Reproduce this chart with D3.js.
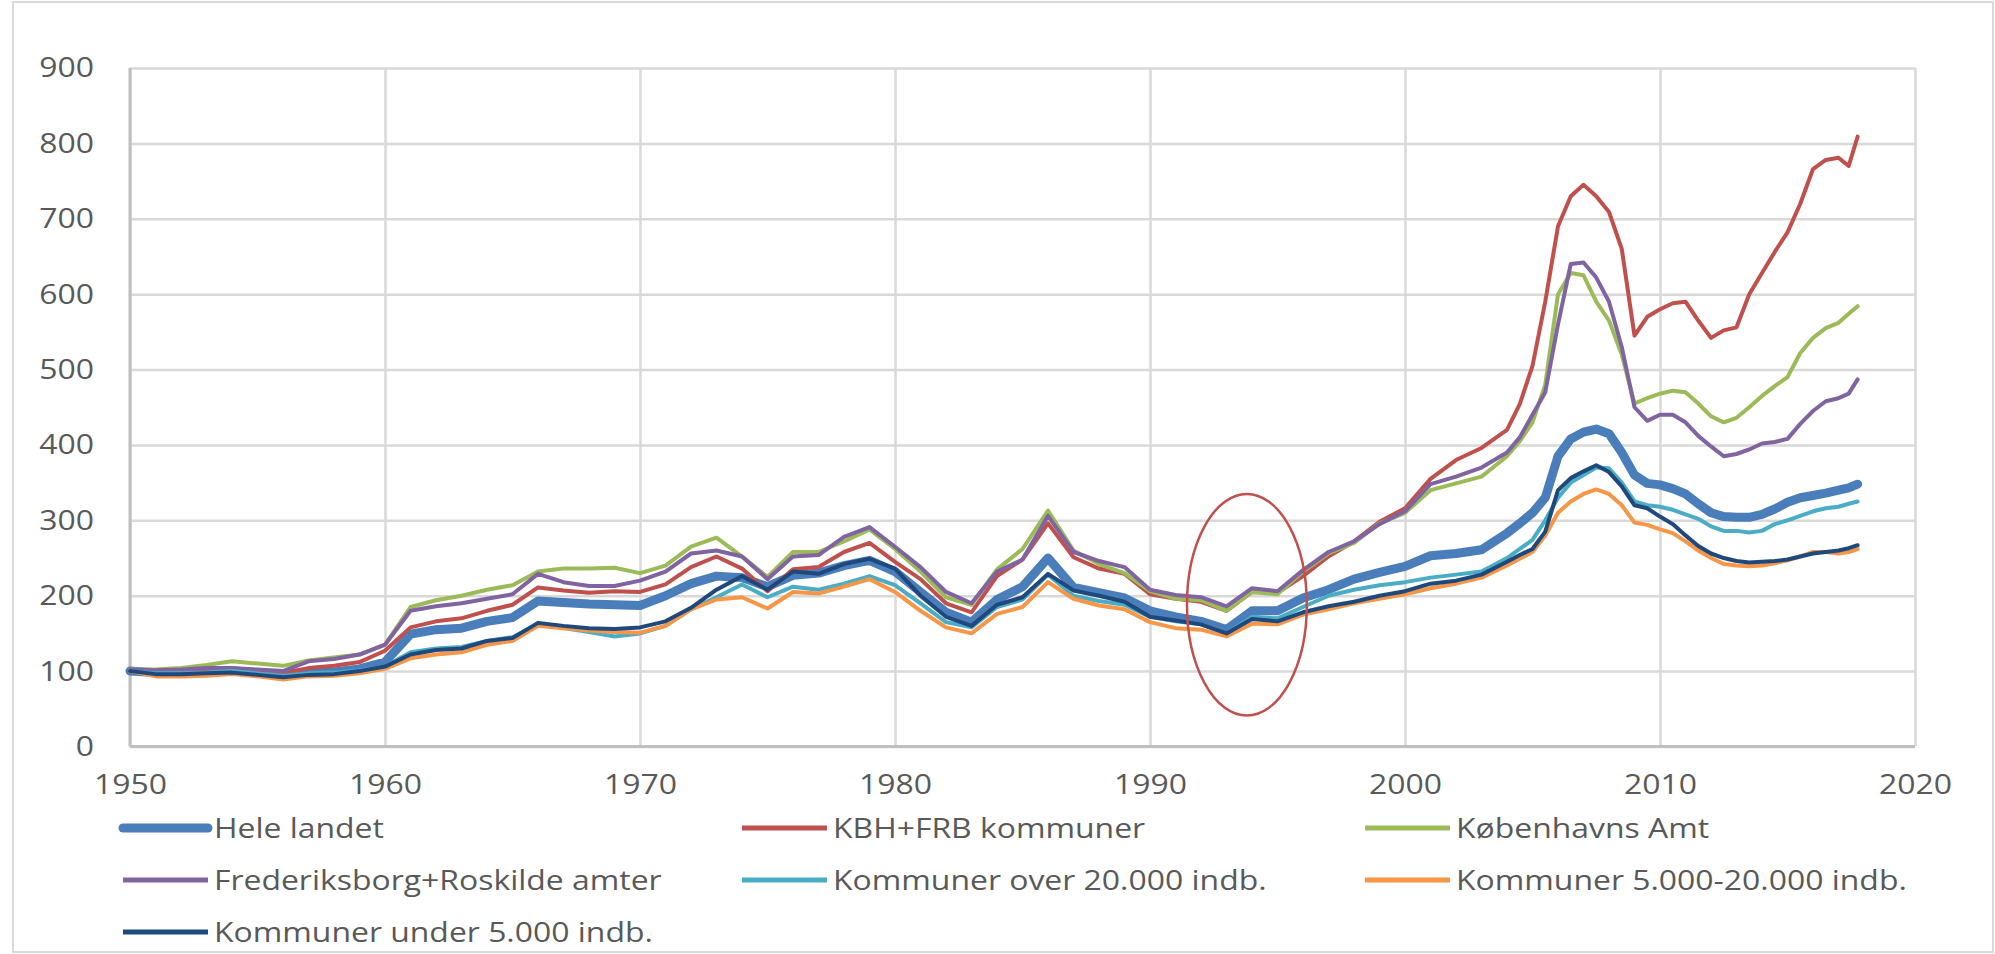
<!DOCTYPE html>
<html>
<head>
<meta charset="utf-8">
<script src="https://cdn.jsdelivr.net/npm/d3@7"></script>
<style>
    body { margin: 0; background: #fff; }
    text { font-family: "Open Sans", Lato, sans-serif; fill: #595959; }
</style>
</head>
<body>
<svg id="chart" width="1995" height="954"></svg>
<script>
// x values: annual to 2004, half-yearly after
const years = [1950, 1951, 1952, 1953, 1954, 1955, 1956, 1957, 1958, 1959,
    1960, 1961, 1962, 1963, 1964, 1965, 1966, 1967, 1968, 1969,
    1970, 1971, 1972, 1973, 1974, 1975, 1976, 1977, 1978, 1979,
    1980, 1981, 1982, 1983, 1984, 1985, 1986, 1987, 1988, 1989,
    1990, 1991, 1992, 1993, 1994, 1995, 1996, 1997, 1998, 1999,
    2000, 2001, 2002, 2003, 2004,
    2004.5, 2005, 2005.5, 2006, 2006.5, 2007, 2007.5, 2008, 2008.5, 2009, 2009.5, 2010, 2010.5, 2011,
    2011.5, 2012, 2012.5, 2013, 2013.5, 2014, 2014.5, 2015, 2015.5, 2016, 2016.5, 2017, 2017.4, 2017.75];

const heleLandet = [100, 98, 98, 99, 100, 98, 96, 98, 99, 103,
    112, 149, 155, 157, 166, 171, 193, 191, 189, 188,
    187, 200, 216, 226, 224, 212, 227, 230, 240, 247,
    232, 205, 178, 165, 195, 212, 250, 211, 204, 197,
    180, 172, 166, 155, 180, 180, 197, 208, 222, 231,
    239, 253, 256, 261, 283,
    296, 310, 330, 385, 408, 417, 421, 415, 390, 360, 349, 347, 342, 335,
    322, 310, 305, 304, 304, 308, 315, 324, 330, 333, 336, 340, 343, 348];

const kbhFrb = [100, 98, 98, 101, 102, 100, 98, 104, 107, 112,
    127, 158, 166, 170, 180, 188, 211, 207, 204, 206,
    205, 215, 238, 252, 236, 206, 235, 238, 258, 270,
    245, 222, 190, 178, 226, 248, 296, 251, 236, 229,
    202, 196, 192, 180, 205, 204, 226, 252, 272, 298,
    316, 355, 380, 396, 420,
    454, 505, 590, 690, 730, 745, 730, 709, 660, 545, 570, 580, 588, 590,
    565, 542, 552, 556, 600, 628, 656, 682, 720, 766, 778, 781, 770, 809];

const kbhAmt = [102, 102, 104, 108, 113, 110, 107, 114, 118, 122,
    135, 185, 194, 200, 208, 214, 232, 236, 236, 237,
    230, 240, 265, 277, 252, 225, 258, 258, 272, 288,
    262, 232, 198, 188, 235, 262, 313, 260, 242, 230,
    206, 196, 194, 180, 205, 202, 232, 256, 270, 296,
    310, 340, 349, 358, 385,
    405, 430, 480, 600, 628, 625, 590, 565, 520, 455, 462, 468, 472, 470,
    455, 438, 430, 436, 450, 465, 478, 490, 522, 542, 555, 562, 574, 584];

const frbRoskilde = [102, 101, 102, 104, 104, 102, 100, 113, 116, 122,
    135, 180, 186, 190, 196, 202, 229, 218, 213, 213,
    220, 232, 256, 260, 252, 222, 252, 254, 278, 291,
    265, 238, 205, 190, 232, 248, 306, 258, 246, 238,
    208, 201, 198, 186, 210, 206, 234, 258, 272, 295,
    312, 348, 358, 370, 390,
    410, 440, 470, 560, 640, 642, 622, 590, 530, 450, 432, 440, 440, 430,
    412, 398, 385, 388, 394, 402, 404, 408, 428, 445, 458, 462, 468, 487];

const over20000 = [100, 97, 97, 98, 100, 97, 94, 97, 98, 101,
    106, 125, 130, 132, 140, 145, 162, 157, 152, 146,
    150, 160, 182, 198, 215, 198, 212, 208, 216, 226,
    214, 190, 165, 158, 185, 195, 228, 200, 193, 188,
    172, 166, 162, 150, 172, 170, 185, 200, 208, 214,
    218, 224, 228, 232, 250,
    262, 274, 300, 330, 350, 360, 370, 369, 350, 325, 320, 318, 314, 308,
    302, 292, 286, 286, 284, 286, 295, 300, 306, 312, 316, 318, 322, 325];

const from5000to20000 = [100, 93, 93, 94, 96, 93, 89, 93, 94, 97,
    103, 117, 122, 125, 135, 140, 160, 157, 154, 152,
    151, 160, 182, 195, 198, 183, 205, 203, 212, 222,
    205, 180, 158, 150, 176, 185, 218, 196, 187, 182,
    165, 157, 155, 146, 163, 162, 175, 182, 190, 196,
    202, 210, 216, 224, 240,
    249, 258, 280, 310, 325, 335, 341, 335, 320, 297, 294, 288, 283, 272,
    260, 250, 242, 240, 239, 240, 243, 247, 252, 258, 258, 256, 258, 262];

const under5000 = [100, 96, 96, 97, 98, 95, 92, 95, 96, 100,
    106, 122, 128, 130, 140, 144, 164, 160, 157, 156,
    158, 166, 184, 208, 226, 208, 232, 229, 242, 249,
    236, 200, 172, 160, 188, 198, 229, 207, 200, 192,
    172, 167, 162, 150, 169, 166, 178, 186, 192, 200,
    206, 216, 220, 228, 245,
    254, 262, 285, 340, 356, 365, 373, 364, 345, 320, 316, 305, 295, 280,
    266, 256, 250, 246, 244, 245, 246, 248, 252, 256, 258, 260, 263, 267];

const seriesNames = ['Hele landet', 'KBH+FRB kommuner', 'Københavns Amt',
    'Frederiksborg+Roskilde amter', 'Kommuner over 20.000 indb.',
    'Kommuner 5.000-20.000 indb.', 'Kommuner under 5.000 indb.'];
const seriesValues = [heleLandet, kbhFrb, kbhAmt, frbRoskilde, over20000, from5000to20000, under5000];
const seriesColors = ['#4a7ebb', '#c0504d', '#9bbb59', '#8064a2', '#4bacc6', '#f79646', '#1f497d'];
const seriesWidths = [9, 4, 4, 4, 4, 4, 4];

const xTicks = [1950, 1960, 1970, 1980, 1990, 2000, 2010, 2020];
const yTicks = [0, 100, 200, 300, 400, 500, 600, 700, 800, 900];

// red ring drawn round 1992-1996
const ringCenter = [1993.8, 188];
const ringRadius = [2.35, 147];

// the source picture is stretched sideways, so is the text
const stretch = 1.14;
const fontSize = 28;

const svg = d3.select('#chart');
const x = d3.scaleLinear().domain([1950, 2020]).range([130, 1915]);
const y = d3.scaleLinear().domain([0, 900]).range([746.5, 68]);

svg.append('rect')
    .attr('x', 13).attr('y', 2)
    .attr('width', 1980).attr('height', 950)
    .attr('fill', '#fff')
    .attr('stroke', '#d9d9d9')
    .attr('stroke-width', 2);

const yAxis = svg.append('g')
    .attr('transform', `translate(${x(1950)},0)`)
    .call(d3.axisLeft(y).tickValues(yTicks).tickSize(-(x(2020) - x(1950))).tickPadding(36));
const xAxis = svg.append('g')
    .attr('transform', `translate(0,${y(0)})`)
    .call(d3.axisBottom(x).tickValues(xTicks).tickFormat(d3.format('d'))
        .tickSize(-(y(0) - y(900))).tickPadding(28));

[yAxis, xAxis].forEach(g => {
    g.select('.domain').remove();
    g.selectAll('line').attr('stroke', '#d9d9d9').attr('stroke-width', 2.5);
    g.selectAll('text')
        .attr('font-size', fontSize)
        .attr('font-family', null)
        .style('fill', '#595959')
        .attr('transform', `scale(${stretch},1)`);
});
yAxis.selectAll('text').attr('x', -36 / stretch);

svg.append('line')
    .attr('x1', x(1950)).attr('x2', x(1950))
    .attr('y1', y(900)).attr('y2', y(0))
    .attr('stroke', '#bfbfbf').attr('stroke-width', 3);
svg.append('line')
    .attr('x1', x(1950)).attr('x2', x(2020))
    .attr('y1', y(0)).attr('y2', y(0))
    .attr('stroke', '#bfbfbf').attr('stroke-width', 3);

const line = d3.line()
    .x((d, i) => x(years[i]))
    .y(d => y(d));

svg.append('g')
    .selectAll('path')
    .data(seriesValues)
    .enter().append('path')
    .attr('d', d => line(d))
    .attr('fill', 'none')
    .attr('stroke', (d, i) => seriesColors[i])
    .attr('stroke-width', (d, i) => seriesWidths[i])
    .attr('stroke-linejoin', 'round')
    .attr('stroke-linecap', 'round');

svg.append('ellipse')
    .attr('cx', x(ringCenter[0]))
    .attr('cy', y(ringCenter[1]))
    .attr('rx', x(ringCenter[0] + ringRadius[0]) - x(ringCenter[0]))
    .attr('ry', y(0) - y(ringRadius[1]))
    .attr('fill', 'none')
    .attr('stroke', '#c0504d')
    .attr('stroke-width', 2.5);

// legend: three columns, three rows
const legendX = [123, 742, 1365];
const legendY = [828, 880, 932];
const legend = svg.append('g')
    .selectAll('g')
    .data(seriesNames)
    .enter().append('g')
    .attr('transform', (d, i) => `translate(${legendX[i % 3]},${legendY[Math.floor(i / 3)]})`);

legend.append('line')
    .attr('x1', 0).attr('x2', 85)
    .attr('stroke', (d, i) => seriesColors[i])
    .attr('stroke-width', (d, i) => i === 0 ? 9 : 5)
    .attr('stroke-linecap', (d, i) => i === 0 ? 'round' : 'butt');

legend.append('text')
    .attr('x', 91 / stretch)
    .attr('dy', '0.35em')
    .attr('font-size', fontSize)
    .attr('transform', `scale(${stretch},1)`)
    .text(d => d);
</script>
</body>
</html>
